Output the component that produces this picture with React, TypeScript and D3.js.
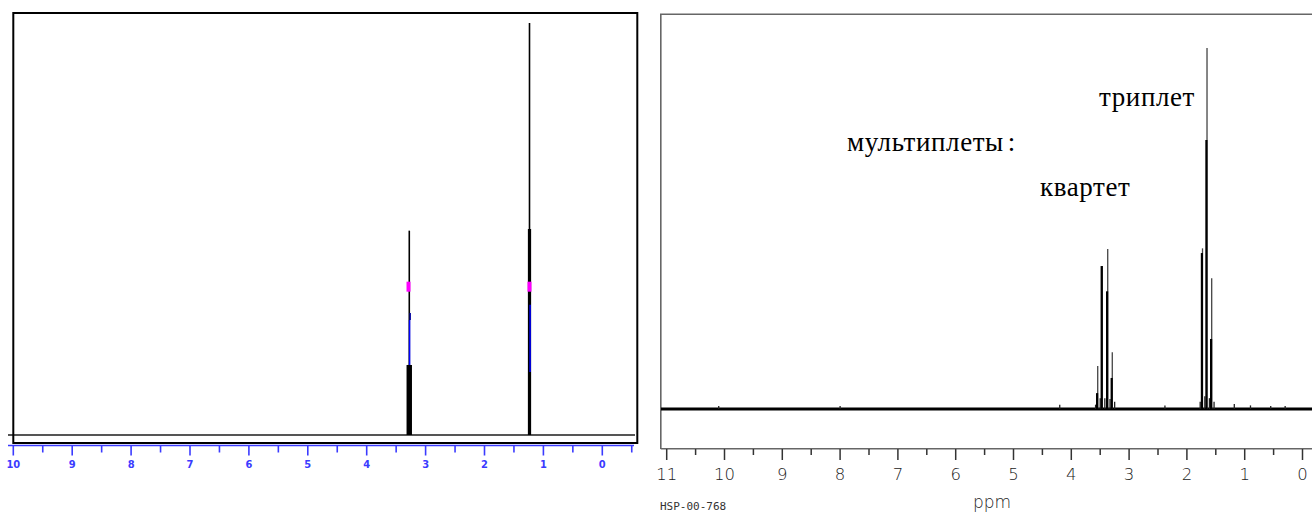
import * as d3 from 'd3';
import React, {useRef, useEffect} from 'react';

// left panel: stick spectrum (ppm 10..0)
const leftTicks = [10, 9, 8, 7, 6, 5, 4, 3, 2, 1, 0];
const leftMinor = [9.5, 8.5, 7.5, 6.5, 5.5, 4.5, 3.5, 2.5, 1.5, 0.5, -0.5];
const leftStickPpm = [3.31, 3.295, 3.277, 3.26, 3.245, 1.25, 1.236, 1.222];
const leftStickH = [0.17, 0.17, 0.496, 0.17, 0.17, 0.5, 1.0, 0.5];
const leftMarkPpm = [3.29, 1.236];
const leftMarkH = [0.36, 0.36];
const leftBluePpm = [3.272, 3.262, 1.226];
const leftBlueFrom = [0.17, 0.279, 0.153];
const leftBlueTo = [0.279, 0.296, 0.316];

// right panel: measured 1H spectrum (ppm 11..0)
const rightTicks = [11, 10, 9, 8, 7, 6, 5, 4, 3, 2, 1, 0];
const rightMinor = [10.5, 9.5, 8.5, 7.5, 6.5, 5.5, 4.5, 3.5, 2.5, 1.5, 0.5];
const peakPpm = [3.543, 3.464, 3.37, 3.291, 1.73, 1.652, 1.571];
const peakTop = [0.119, 0.396, 0.443, 0.157, 0.445, 1.0, 0.362];
const peakCore = [0.044, 0.396, 0.326, 0.086, 0.432, 0.745, 0.194];
const bumpPpm = [3.58, 3.5, 3.42, 3.33, 3.25, 1.77, 1.69, 1.61, 1.53, 4.2, 2.38, 1.18, 0.9, 0.55, 0.3, 8.0, 10.1];
const bumpH = [0.012, 0.03, 0.03, 0.028, 0.02, 0.02, 0.035, 0.03, 0.02, 0.012, 0.01, 0.014, 0.01, 0.008, 0.008, 0.008, 0.008];

const labels = [
    {text: 'триплет', x: 1099, y: 106},
    {text: 'мультиплеты', x: 847, y: 151},
    {text: 'квартет', x: 1040, y: 196},
];

function App() {
    const ref = useRef(null);

    useEffect(() => {
        document.body.style.margin = '0';
        const svg = d3.select(ref.current);
        svg.selectAll('*').remove();
        svg.attr('width', 1312).attr('height', 513).style('background', '#fff');

        // ---- left panel
        const xL = d3.scaleLinear().domain([10, 0]).range([13.3, 602.3]);
        const yL = d3.scaleLinear().domain([0, 1]).range([435, 23]);
        const left = svg.append('g');

        left.append('line')
            .attr('x1', 8).attr('x2', 635)
            .attr('y1', yL(0)).attr('y2', yL(0))
            .attr('stroke', '#555').attr('stroke-width', 1.8);

        left.selectAll('.stick')
            .data(leftStickPpm)
            .enter()
            .append('line')
            .attr('x1', d => xL(d)).attr('x2', d => xL(d))
            .attr('y1', yL(0))
            .attr('y2', (d, i) => yL(leftStickH[i]))
            .attr('stroke', '#000')
            .attr('stroke-width', 1.6);

        left.selectAll('.blue')
            .data(leftBluePpm)
            .enter()
            .append('line')
            .attr('x1', d => xL(d)).attr('x2', d => xL(d))
            .attr('y1', (d, i) => yL(leftBlueFrom[i]))
            .attr('y2', (d, i) => yL(leftBlueTo[i]))
            .attr('stroke', (d, i) => i === 1 ? '#0000a0' : '#0000ff')
            .attr('stroke-width', 1.5);

        left.selectAll('.mark')
            .data(leftMarkPpm)
            .enter()
            .append('rect')
            .attr('x', d => xL(d) - 2)
            .attr('y', (d, i) => yL(leftMarkH[i]) - 5)
            .attr('width', 4).attr('height', 10)
            .attr('fill', '#ff00ff');

        left.append('rect')
            .attr('x', 13.3).attr('y', 13)
            .attr('width', 624).attr('height', 430)
            .attr('fill', 'none')
            .attr('stroke', '#000').attr('stroke-width', 2);

        const axL = left.append('g').attr('stroke', '#3b3bff').attr('stroke-width', 1.6);
        axL.append('line').attr('x1', 8).attr('x2', 634).attr('y1', 445.5).attr('y2', 445.5);
        axL.selectAll('.maj').data(leftTicks).enter().append('line')
            .attr('x1', d => xL(d)).attr('x2', d => xL(d))
            .attr('y1', 445.5).attr('y2', 455.5);
        axL.selectAll('.min').data(leftMinor).enter().append('line')
            .attr('x1', d => xL(d)).attr('x2', d => xL(d))
            .attr('y1', 445.5).attr('y2', 452.5);
        left.selectAll('.ltl').data(leftTicks).enter().append('text')
            .attr('x', d => xL(d)).attr('y', 467.5)
            .attr('text-anchor', 'middle')
            .attr('font-family', '"Liberation Sans Narrow", "DejaVu Sans Condensed", sans-serif')
            .attr('font-size', 11).attr('font-weight', 'bold')
            .attr('fill', '#3b3bff')
            .text(d => d);

        // ---- right panel
        const xR = d3.scaleLinear().domain([11, 0]).range([666.7, 1302.5]);
        const yR = d3.scaleLinear().domain([0, 1]).range([409, 48]);
        const right = svg.append('g');

        right.append('path')
            .attr('d', 'M660.8,449 V14.2 H1320 M660.8,448.8 H1320')
            .attr('fill', 'none')
            .attr('stroke', '#666').attr('stroke-width', 1.6);

        right.append('line')
            .attr('x1', 661).attr('x2', 1312)
            .attr('y1', yR(0)).attr('y2', yR(0))
            .attr('stroke', '#000').attr('stroke-width', 3);

        right.selectAll('.bump').data(bumpPpm).enter().append('line')
            .attr('x1', d => xR(d)).attr('x2', d => xR(d))
            .attr('y1', yR(0)).attr('y2', (d, i) => yR(bumpH[i]))
            .attr('stroke', '#222').attr('stroke-width', 1.3);

        right.selectAll('.top').data(peakPpm).enter().append('line')
            .attr('x1', d => xR(d)).attr('x2', d => xR(d))
            .attr('y1', yR(0)).attr('y2', (d, i) => yR(peakTop[i]))
            .attr('stroke', '#444').attr('stroke-width', 1.3);

        right.selectAll('.core').data(peakPpm).enter().append('line')
            .attr('x1', d => xR(d) - 0.6).attr('x2', d => xR(d) - 0.6)
            .attr('y1', yR(0)).attr('y2', (d, i) => yR(peakCore[i]))
            .attr('stroke', '#000').attr('stroke-width', 2.2);

        const axR = right.append('g').attr('stroke', '#333').attr('stroke-width', 1.5);
        axR.selectAll('.maj').data(rightTicks).enter().append('line')
            .attr('x1', d => xR(d)).attr('x2', d => xR(d))
            .attr('y1', 449).attr('y2', 460);
        axR.selectAll('.min').data(rightMinor).enter().append('line')
            .attr('x1', d => xR(d)).attr('x2', d => xR(d))
            .attr('y1', 449).attr('y2', 455);
        right.selectAll('.rtl').data(rightTicks).enter().append('text')
            .attr('x', d => xR(d)).attr('y', 480)
            .attr('text-anchor', 'middle')
            .attr('font-family', '"DejaVu Sans", sans-serif')
            .attr('font-weight', 200)
            .attr('font-size', 16.5)
            .attr('fill', '#222')
            .text(d => d);

        right.append('text')
            .attr('x', 992).attr('y', 508)
            .attr('text-anchor', 'middle')
            .attr('font-family', '"DejaVu Sans", sans-serif')
            .attr('font-weight', 200)
            .attr('font-size', 17)
            .attr('fill', '#222')
            .text('ppm');

        right.append('text')
            .attr('x', 660).attr('y', 510)
            .attr('font-family', '"DejaVu Sans Mono", monospace')
            .attr('font-size', 11)
            .attr('fill', '#333')
            .text('HSP-00-768');

        const lbl = right.selectAll('.lbl').data(labels).enter().append('text')
            .attr('x', d => d.x).attr('y', d => d.y)
            .attr('font-family', '"Liberation Serif", "Times New Roman", serif')
            .attr('font-size', 27)
            .attr('letter-spacing', 0.6)
            .attr('fill', '#000');
        lbl.append('tspan').text(d => d.text);
        lbl.filter((d, i) => i === 1).append('tspan')
            .attr('dx', 4)
            .text(':');
    }, []);

    return (
        <div className="chart">
            <svg ref={ref} style={{display: 'block'}}>
            </svg>
        </div>
    );
}

export default App;
